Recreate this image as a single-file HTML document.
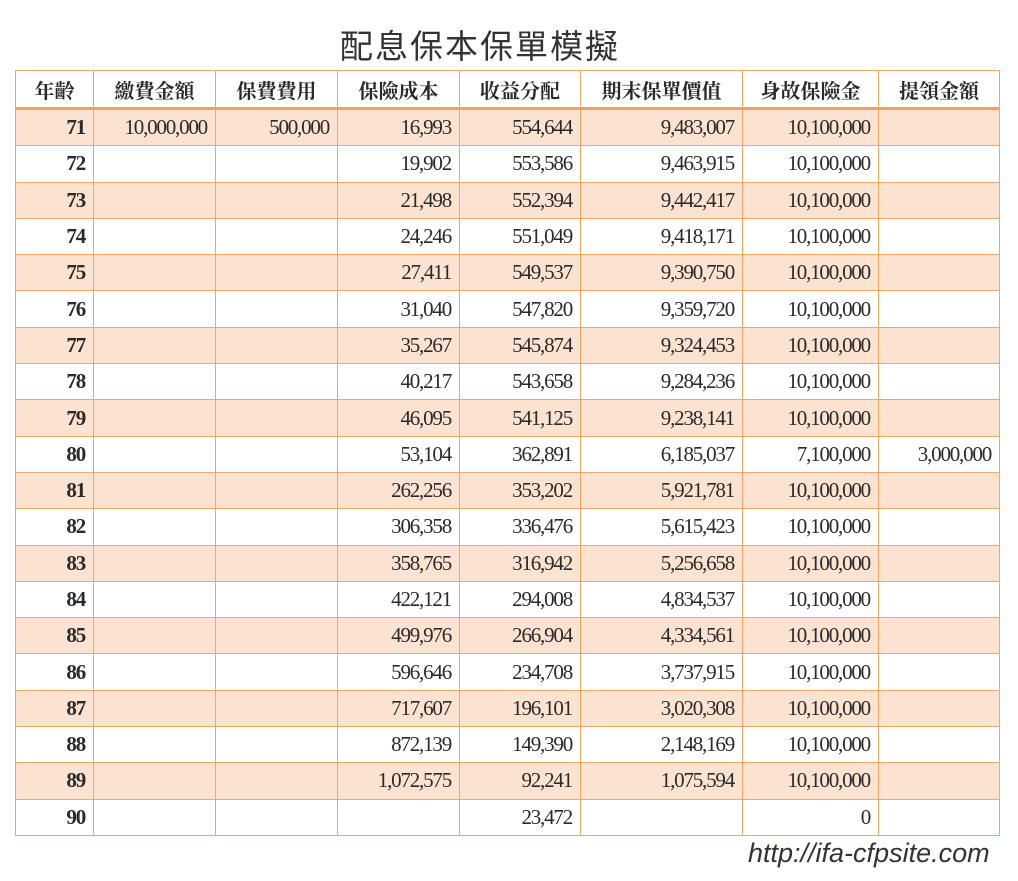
<!DOCTYPE html>
<html><head><meta charset="utf-8"><style>
body{margin:0;width:1018px;height:881px;background:#fff;position:relative;overflow:hidden}
.title{position:absolute;left:0;width:960px;top:20px;text-align:center;font:33px "Noto Sans CJK TC","Noto Sans CJK SC",sans-serif;color:#333;letter-spacing:2px}
table{position:absolute;left:15px;top:70px;border-collapse:collapse;table-layout:fixed}
td,th{border:1.5px solid #f0a868;padding:0 8px 0 0;text-align:right;font:21px "Liberation Serif","Noto Serif CJK TC",serif;color:#2a2a2a;letter-spacing:-1.2px;height:35.3px;white-space:nowrap;overflow:hidden}
th{height:36px;text-align:center;padding:0;font-weight:bold;font-family:"Noto Serif CJK TC","Noto Serif CJK SC",serif;font-size:20px;letter-spacing:0;border-bottom:3.5px solid #f0a060}
td:first-child{font-weight:bold}
tr.o td{background:#fce2d1}
.url{position:absolute;left:748px;top:838px;font:italic 27px "Liberation Sans",sans-serif;color:#333}
</style></head><body>
<div class="title">配息保本保單模擬</div>
<table>
<colgroup><col style="width:78px"><col style="width:122px"><col style="width:122px"><col style="width:122px"><col style="width:121px"><col style="width:162px"><col style="width:136px"><col style="width:121px"></colgroup>
<tr><th>年齡</th><th>繳費金額</th><th>保費費用</th><th>保險成本</th><th>收益分配</th><th>期末保單價值</th><th>身故保險金</th><th>提領金額</th></tr>
<tr class="o"><td>71</td><td>10,000,000</td><td>500,000</td><td>16,993</td><td>554,644</td><td>9,483,007</td><td>10,100,000</td><td></td></tr>
<tr><td>72</td><td></td><td></td><td>19,902</td><td>553,586</td><td>9,463,915</td><td>10,100,000</td><td></td></tr>
<tr class="o"><td>73</td><td></td><td></td><td>21,498</td><td>552,394</td><td>9,442,417</td><td>10,100,000</td><td></td></tr>
<tr><td>74</td><td></td><td></td><td>24,246</td><td>551,049</td><td>9,418,171</td><td>10,100,000</td><td></td></tr>
<tr class="o"><td>75</td><td></td><td></td><td>27,411</td><td>549,537</td><td>9,390,750</td><td>10,100,000</td><td></td></tr>
<tr><td>76</td><td></td><td></td><td>31,040</td><td>547,820</td><td>9,359,720</td><td>10,100,000</td><td></td></tr>
<tr class="o"><td>77</td><td></td><td></td><td>35,267</td><td>545,874</td><td>9,324,453</td><td>10,100,000</td><td></td></tr>
<tr><td>78</td><td></td><td></td><td>40,217</td><td>543,658</td><td>9,284,236</td><td>10,100,000</td><td></td></tr>
<tr class="o"><td>79</td><td></td><td></td><td>46,095</td><td>541,125</td><td>9,238,141</td><td>10,100,000</td><td></td></tr>
<tr><td>80</td><td></td><td></td><td>53,104</td><td>362,891</td><td>6,185,037</td><td>7,100,000</td><td>3,000,000</td></tr>
<tr class="o"><td>81</td><td></td><td></td><td>262,256</td><td>353,202</td><td>5,921,781</td><td>10,100,000</td><td></td></tr>
<tr><td>82</td><td></td><td></td><td>306,358</td><td>336,476</td><td>5,615,423</td><td>10,100,000</td><td></td></tr>
<tr class="o"><td>83</td><td></td><td></td><td>358,765</td><td>316,942</td><td>5,256,658</td><td>10,100,000</td><td></td></tr>
<tr><td>84</td><td></td><td></td><td>422,121</td><td>294,008</td><td>4,834,537</td><td>10,100,000</td><td></td></tr>
<tr class="o"><td>85</td><td></td><td></td><td>499,976</td><td>266,904</td><td>4,334,561</td><td>10,100,000</td><td></td></tr>
<tr><td>86</td><td></td><td></td><td>596,646</td><td>234,708</td><td>3,737,915</td><td>10,100,000</td><td></td></tr>
<tr class="o"><td>87</td><td></td><td></td><td>717,607</td><td>196,101</td><td>3,020,308</td><td>10,100,000</td><td></td></tr>
<tr><td>88</td><td></td><td></td><td>872,139</td><td>149,390</td><td>2,148,169</td><td>10,100,000</td><td></td></tr>
<tr class="o"><td>89</td><td></td><td></td><td>1,072,575</td><td>92,241</td><td>1,075,594</td><td>10,100,000</td><td></td></tr>
<tr><td>90</td><td></td><td></td><td></td><td>23,472</td><td></td><td>0</td><td></td></tr>
</table>
<div class="url">http://ifa-cfpsite.com</div>
</body></html>
